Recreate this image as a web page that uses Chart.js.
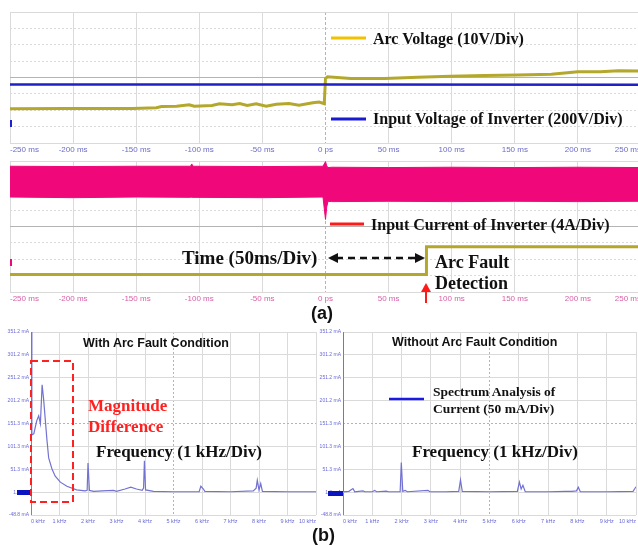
<!DOCTYPE html>
<html>
<head>
<meta charset="utf-8">
<script src="https://cdn.jsdelivr.net/npm/chart.js@4.4.1/dist/chart.umd.min.js"></script>
<style>
  html, body { margin: 0; padding: 0; background: #fff; width: 638px; height: 546px; overflow: hidden; position: relative; }
  canvas { position: absolute; }
  .t { position: absolute; white-space: nowrap; line-height: 1; font-family: "Liberation Serif", "Times New Roman", serif; font-weight: bold; color: #111; }
  .s { font-family: "Liberation Sans", Arial, sans-serif; }
  .mk { position: absolute; }
  svg { position: absolute; left: 0; top: 0; }
</style>
</head>
<body>
<canvas id="voltChart" width="642" height="160" style="left:0;top:0"></canvas>
<canvas id="currChart" width="642" height="154" style="left:0;top:155px"></canvas>
<canvas id="arcSpec" width="318" height="205" style="left:0;top:325px"></canvas>
<canvas id="normSpec" width="320" height="205" style="left:318px;top:325px"></canvas>

<!-- channel ground markers -->
<div class="mk" style="left:10px;top:120px;width:2px;height:7px;background:#2020d0"></div>
<div class="mk" style="left:10px;top:259px;width:2px;height:7px;background:#f0087a"></div>
<div class="mk" style="left:17px;top:490px;width:14px;height:5px;background:#0a14c0"></div>
<div class="mk" style="left:328px;top:491px;width:15px;height:5px;background:#0a14c0"></div>

<svg width="638" height="546">
  <line x1="331" y1="38" x2="366" y2="38" stroke="#f2c200" stroke-width="3"/>
  <line x1="331" y1="119" x2="366" y2="119" stroke="#1a1ad0" stroke-width="3"/>
  <line x1="330" y1="224" x2="364" y2="224" stroke="#ff1a1a" stroke-width="3"/>
  <line x1="336" y1="258" x2="417" y2="258" stroke="#111" stroke-width="2.5" stroke-dasharray="7 5"/>
  <polygon points="328,258 338,253 338,263" fill="#111"/>
  <polygon points="425,258 415,253 415,263" fill="#111"/>
  <line x1="426" y1="303" x2="426" y2="290" stroke="#ff1a1a" stroke-width="2"/>
  <polygon points="426,283 421,292 431,292" fill="#ff1a1a"/>
  <rect x="31" y="361" width="42" height="141" fill="none" stroke="#ff2020" stroke-width="2" stroke-dasharray="7 4"/>
  <line x1="389" y1="399" x2="424" y2="399" stroke="#1a1ae0" stroke-width="2.5"/>
</svg>

<div class="t" style="left:373px;top:31px;font-size:16px">Arc Voltage (10V/Div)</div>
<div class="t" style="left:373px;top:111px;font-size:16px">Input Voltage of Inverter (200V/Div)</div>
<div class="t" style="left:371px;top:217px;font-size:16px">Input Current of Inverter (4A/Div)</div>
<div class="t" style="left:182px;top:248px;font-size:19px">Time (50ms/Div)</div>
<div class="t" style="left:435px;top:253px;font-size:18px">Arc Fault</div>
<div class="t" style="left:435px;top:274px;font-size:18px">Detection</div>
<div class="t s" style="left:311px;top:304px;font-size:18px">(a)</div>
<div class="t s" style="left:83px;top:337px;font-size:12.5px">With Arc Fault Condition</div>
<div class="t" style="left:88px;top:397px;font-size:17px;color:#ff2020">Magnitude</div>
<div class="t" style="left:88px;top:418px;font-size:17px;color:#ff2020">Difference</div>
<div class="t" style="left:96px;top:443px;font-size:17px">Frequency (1 kHz/Div)</div>
<div class="t s" style="left:392px;top:336px;font-size:12.5px">Without Arc Fault Condition</div>
<div class="t" style="left:433px;top:385px;font-size:13.5px">Spectrum Analysis of</div>
<div class="t" style="left:433px;top:402px;font-size:13.5px">Current (50 mA/Div)</div>
<div class="t" style="left:412px;top:443px;font-size:17px">Frequency (1 kHz/Div)</div>
<div class="t s" style="left:312px;top:526px;font-size:18px">(b)</div>

<script>
/* --- Scope axes --- */
const scopeTicksMs = [-250, -200, -150, -100, -50, 0, 50, 100, 150, 200, 250];
const scopeTickLabels = ['-250 ms', '-200 ms', '-150 ms', '-100 ms', '-50 ms', '0 ps', '50 ms', '100 ms', '150 ms', '200 ms', '250 ms'];
const divTicks = [-4, -3, -2, -1, 0, 1, 2, 3, 4];

/* --- Arc voltage (divisions) --- */
const arcVoltTime = [-250, -206, -153, -134, -130, -118, -108, -104, -90, -84, -74, -68, -62, -55, -47, -39, -29, -21, -10, -5, -1, 0, 1.6, 20, 47, 73, 99, 126, 152, 179, 200, 218, 232, 250];
const arcVoltDiv = [-1.91, -1.89, -1.89, -1.85, -1.77, -1.75, -1.67, -1.75, -1.71, -1.61, -1.67, -1.59, -1.71, -1.61, -1.75, -1.63, -1.59, -1.69, -1.54, -1.50, -1.60, -0.06, 0.04, -0.06, -0.06, 0.02, 0.08, 0.12, 0.16, 0.20, 0.35, 0.35, 0.41, 0.39];

/* --- Input voltage of inverter --- */
const inputVoltTime = [-250, 0, 250];
const inputVoltDiv = [-0.43, -0.43, -0.45];

/* --- Input current of inverter: envelope of the switching ripple --- */
const currentTime = [-250, -200, -150, -107, -106, -105, -50, -2, 0, 1, 2, 5, 50, 100, 150, 200, 250];
const currentUpperDiv = [3.68, 3.66, 3.68, 3.68, 3.82, 3.68, 3.66, 3.68, 3.96, 3.70, 3.60, 3.62, 3.60, 3.62, 3.60, 3.62, 3.60];
const currentLowerDiv = [1.80, 1.76, 1.80, 1.78, 1.78, 1.78, 1.76, 1.80, 0.43, 1.20, 1.54, 1.52, 1.54, 1.52, 1.54, 1.52, 1.54];

/* --- Arc fault detection signal --- */
const detectTime = [-250, 80, 80, 250];
const detectDiv = [-2.93, -2.93, -1.24, -1.24];

/* --- Spectrum axes --- */
const freqTicks = [0, 1, 2, 3, 4, 5, 6, 7, 8, 9, 10];
const freqTickLabels = ['0 kHz', '1 kHz', '2 kHz', '3 kHz', '4 kHz', '5 kHz', '6 kHz', '7 kHz', '8 kHz', '9 kHz', '10 kHz'];
const specTickValues = [-48.8, 1.2, 51.2, 101.2, 151.2, 201.2, 251.2, 301.2, 351.2];
const specTickLabels = ['-48.8 mA', '1.3 mA', '51.3 mA', '101.3 mA', '151.3 mA', '201.2 mA', '251.2 mA', '301.2 mA', '351.2 mA'];

/* --- Spectrum with arc fault (kHz, mA) --- */
const arcFreq = [0, 0.03, 0.1, 0.2, 0.27, 0.33, 0.39, 0.44, 0.56, 0.62, 0.74, 0.85, 1.03, 1.26, 1.6, 1.9, 1.97, 2.0, 2.05, 2.2, 2.5, 2.9, 3.0, 3.3, 3.5, 3.7, 3.9, 3.95, 3.98, 4.02, 4.3, 5.0, 5.9, 5.96, 6.05, 6.1, 7.0, 7.8, 7.9, 7.94, 8.0, 8.06, 8.12, 9.0, 10.0];
const arcMag = [351.2, 126, 129, 157, 168, 151, 236, 206, 115, 76, 51, 36, 23, 14, 6, 4, 5, 65, 5, 3, 4, 5, 3, 8, 12, 8, 5, 10, 70, 6, 3, 2, 2, 14, 8, 3, 2, 4, 10, 27, 6, 20, 3, 2, 2];

/* --- Spectrum without arc fault (kHz, mA) --- */
const normFreq = [0, 0.01, 0.2, 0.34, 0.4, 0.68, 0.75, 1.0, 1.08, 1.15, 1.48, 1.55, 1.95, 1.99, 2.04, 2.12, 2.2, 2.9, 2.97, 3.5, 3.95, 4.01, 4.07, 5.0, 5.95, 6.02, 6.08, 6.14, 6.22, 7.0, 7.6, 7.8, 7.97, 8.03, 8.1, 9.0, 9.9, 10.0];
const normMag = [351.2, 2, 3, 9, 2, 4, 2, 2, 5, 2, 3.5, 2, 2, 66, 3, 5, 2, 5, 2, 2, 3, 28, 3, 2, 3, 23, 8, 16, 2, 2, 3, 3, 4, 12, 2, 2, 3, 13];

/* --- Colours --- */
const COLORS = {
  arc: '#b4a82c',
  inputV: '#2020c8',
  current: '#f0087a',
  spectrum: '#7272d2',
  scopeLabel: '#6c6cc8',
  currLabel: '#d860a8',
  specLabel: '#6a6ad6',
  grid: '#dadada',
  gridMid: '#b4b4b4'
};

const xy = (xs, ys) => xs.map((x, i) => ({ x, y: ys[i] }));

function scopeChart(id, datasets, labelColor, padTop) {
  return new Chart(document.getElementById(id), {
    type: 'line',
    data: { datasets },
    options: {
      responsive: false,
      animation: false,
      events: [],
      layout: { padding: { left: 10, top: padTop, right: 1, bottom: 0 } },
      plugins: { legend: { display: false }, tooltip: { enabled: false } },
      elements: { point: { radius: 0 }, line: { tension: 0 } },
      scales: {
        x: {
          type: 'linear', min: -250, max: 250,
          afterBuildTicks: s => { s.ticks = scopeTicksMs.map(v => ({ value: v })); },
          afterFit: s => { s.height = 17; s.paddingLeft = 0; s.paddingRight = 0; },
          grid: { drawTicks: false, color: c => (c.tick && c.tick.value === 0) ? COLORS.gridMid : COLORS.grid },
          border: { display: false, dash: c => (c.tick && c.tick.value === 0) ? [3, 2] : [] },
          ticks: {
            align: 'inner', padding: 2, maxRotation: 0, autoSkip: false,
            color: labelColor, font: { family: 'Liberation Sans', size: 8 },
            callback: (v, i) => scopeTickLabels[i]
          }
        },
        y: {
          type: 'linear', min: -4, max: 4,
          afterBuildTicks: s => { s.ticks = divTicks.map(v => ({ value: v })); },
          afterFit: s => { s.width = 0; },
          grid: { drawTicks: false, color: c => (c.tick && c.tick.value === 0) ? COLORS.gridMid : COLORS.grid },
          border: { display: false, dash: c => (c.tick && Math.abs(c.tick.value) % 4 !== 0) ? [2, 2] : [] },
          ticks: { display: false }
        }
      }
    }
  });
}

function specChart(id, freq, mag, yWidth) {
  return new Chart(document.getElementById(id), {
    type: 'line',
    data: {
      datasets: [{ data: xy(freq, mag), borderColor: COLORS.spectrum, borderWidth: 1.2 }]
    },
    options: {
      responsive: false,
      animation: false,
      events: [],
      layout: { padding: { left: 0, top: 7, right: 2, bottom: 0 } },
      plugins: { legend: { display: false }, tooltip: { enabled: false } },
      elements: { point: { radius: 0 }, line: { tension: 0 } },
      scales: {
        x: {
          type: 'linear', min: 0, max: 10,
          afterBuildTicks: s => { s.ticks = freqTicks.map(v => ({ value: v })); },
          afterFit: s => { s.height = 15; s.paddingLeft = 0; s.paddingRight = 0; },
          grid: {
            drawTicks: false,
            color: c => !c.tick ? COLORS.grid : c.tick.value === 0 ? '#7a7ae0' : c.tick.value === 5 ? COLORS.gridMid : COLORS.grid
          },
          border: { display: false, dash: c => (c.tick && c.tick.value === 5) ? [2, 2] : [] },
          ticks: {
            align: 'inner', padding: 3, maxRotation: 0, autoSkip: false,
            color: COLORS.specLabel, font: { family: 'Liberation Sans', size: 5.5 },
            callback: (v, i) => freqTickLabels[i]
          }
        },
        y: {
          type: 'linear', min: -48.8, max: 351.2,
          afterBuildTicks: s => { s.ticks = specTickValues.map(v => ({ value: v })); },
          afterFit: s => { s.width = yWidth; },
          grid: {
            drawTicks: false,
            color: c => (c.tick && c.tick.value === 151.2) ? COLORS.gridMid : COLORS.grid
          },
          border: { display: false, dash: c => (c.tick && c.tick.value === 151.2) ? [2, 2] : [] },
          ticks: {
            padding: 2, autoSkip: false,
            color: COLORS.specLabel, font: { family: 'Liberation Sans', size: 5 },
            callback: (v, i) => specTickLabels[i]
          }
        }
      }
    }
  });
}

scopeChart('voltChart', [
  { data: xy(inputVoltTime, inputVoltDiv), borderColor: COLORS.inputV, borderWidth: 2.5 },
  { data: xy(arcVoltTime, arcVoltDiv), borderColor: COLORS.arc, borderWidth: 3 }
], COLORS.scopeLabel, 12);

scopeChart('currChart', [
  { data: xy(currentTime, currentLowerDiv), borderColor: COLORS.current, borderWidth: 1, fill: false },
  { data: xy(currentTime, currentUpperDiv), borderColor: COLORS.current, borderWidth: 1, backgroundColor: COLORS.current, fill: '-1' },
  { data: xy(detectTime, detectDiv), borderColor: COLORS.arc, borderWidth: 3 }
], COLORS.currLabel, 6);

specChart('arcSpec', arcFreq, arcMag, 31);
specChart('normSpec', normFreq, normMag, 25);
</script>
</body>
</html>
